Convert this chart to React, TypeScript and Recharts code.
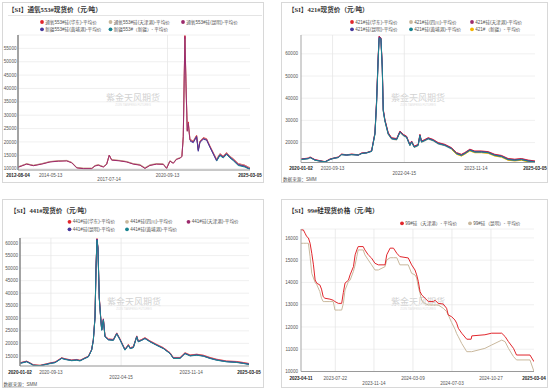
import React from 'react';
import { LineChart, Line, XAxis, YAxis, CartesianGrid, ReferenceLine } from 'recharts';

// ---------------- DATA ----------------
const P1_DATES = ['2012-08-04','2013-01-23','2013-06-04','2013-11-16','2014-04-30','2014-10-12','2015-03-26','2015-07-03','2015-10-10','2016-02-19','2016-08-02','2016-10-07','2016-12-12','2017-03-21','2017-05-26','2017-07-17','2017-09-02','2018-02-14','2018-06-26','2018-11-05','2019-03-17','2019-06-24','2019-10-01','2020-02-10','2020-06-21','2020-08-26','2020-10-31','2021-01-05','2021-03-12','2021-05-17','2021-06-25','2021-07-22','2021-08-11','2021-08-24','2021-09-13','2021-10-09','2021-10-29','2021-12-01','2022-02-05','2022-04-12','2022-05-15','2022-06-17','2022-08-22','2022-10-27','2023-01-01','2023-05-13','2023-07-18','2023-09-22','2023-11-27','2024-02-01','2024-04-07','2024-07-15','2024-11-24','2025-01-29','2025-03-05'];
const P1_HUADONG = [10600,11800,11200,11800,12600,12900,13000,12300,10400,10100,10100,11100,11400,10700,11700,15100,13300,13000,12600,11800,11400,10200,11300,11800,11700,10200,12900,12100,13600,14000,14600,22000,45500,59800,42500,24500,27500,21000,20300,22500,17200,20300,21600,21200,18500,13500,15600,14700,16000,14700,13700,11900,11300,10600,10400];
const P1_TIANJIN = [10700,11900,11300,11900,12700,13000,13100,12400,10500,10200,10200,11200,11500,10800,11800,14900,13400,13100,12700,11900,11600,10400,11500,11900,11800,10300,13000,12200,13700,14100,14600,21500,44000,58500,41500,24000,27000,20800,20200,22300,17000,20100,21400,21000,18300,13400,15500,14600,15900,14600,13600,11800,11200,10500,10300];
const P1_KUNMING = [10500,11700,11100,11700,12500,12800,12900,12200,10300,10000,10000,11000,11300,10600,11600,15000,13200,12900,12500,11700,11300,10100,11200,11700,11600,10100,12800,12000,13500,13900,14500,21900,45000,59500,42000,24000,27000,20700,20000,22200,16900,20000,21300,20900,18200,13200,15300,14400,15700,14400,13400,11600,11000,10300,10100];
const P1_HUANGPU = [null,null,null,null,null,null,null,null,null,null,null,null,null,null,null,null,null,null,null,null,null,null,null,null,null,null,null,null,null,null,null,null,null,null,null,null,null,20400,19700,21900,16500,19800,21000,20700,18000,12900,15100,14200,15500,14200,13200,11400,10800,10100,9900];
const P1_XINJIANG = [null,null,null,null,null,null,null,null,null,null,null,null,null,null,null,null,null,null,null,null,null,null,null,null,null,null,null,null,null,null,null,null,null,null,null,null,null,null,null,null,null,null,null,null,null,12800,14900,14000,15300,14000,13000,11200,10600,10000,9900];
const P1_NAMES = ['通氧553#硅(华东)-平均价','通氧553#硅(天津港)-平均价','通氧553#硅(昆明)-平均价','新疆553#硅(黄埔港)-平均价','新疆553#（新疆）- 平均价'];
const P1_YTICKS = [10000,15000,20000,25000,30000,35000,40000,45000,50000,55000];
const P1_XTICKS = ['2012-08-04','2014-05-13','2017-07-14','2020-09-13','2025-03-05'];

const P2_DATES = ['2020-01-02','2020-03-01','2020-03-15','2020-04-24','2020-07-14','2020-08-23','2020-09-19','2020-10-29','2020-11-25','2021-01-04','2021-02-14','2021-04-09','2021-05-06','2021-06-15','2021-07-25','2021-08-21','2021-09-03','2021-09-16','2021-09-24','2021-10-08','2021-10-19','2021-10-27','2021-11-09','2021-12-06','2022-01-02','2022-02-12','2022-03-11','2022-04-07','2022-05-03','2022-05-30','2022-06-13','2022-07-04','2022-08-05','2022-08-19','2022-09-01','2022-09-28','2022-10-25','2022-12-04','2023-01-13','2023-03-08','2023-05-01','2023-06-10','2023-07-20','2023-08-16','2023-09-26','2023-11-05','2023-12-29','2024-02-21','2024-04-14','2024-06-07','2024-07-31','2024-09-23','2024-11-16','2025-01-09','2025-03-05'];
const P2_HUADONG = [12600,13000,13500,12300,11400,12600,13000,13500,14800,14500,14800,14500,15300,15500,16300,24500,39000,59000,68000,67200,55000,35000,30500,24500,22200,21800,25200,23700,22900,19200,20700,18400,19200,23700,20700,21400,22200,21400,20000,19200,17700,15500,14700,15500,17000,16200,16200,15900,14700,14200,12800,12500,12800,12100,11700];
const P2_SICHUAN = [12300,12700,13200,12000,11100,12300,12700,13200,14500,14200,14500,14200,15000,15200,16000,23500,37000,57000,67000,66500,53000,34000,29500,23500,21500,21100,24500,23000,22200,18500,20000,17700,18500,23000,20000,20700,21500,20700,19300,18500,17000,14800,14000,14800,16300,15500,15500,15200,14000,13500,12100,11800,12100,11400,11000];
const P2_TIANJIN = [12500,12900,13400,12200,11300,12500,12900,13400,14700,14400,14700,14400,15200,15400,16200,24200,38500,58500,67800,67000,54500,34800,30200,24200,22000,21600,25000,23500,22700,19000,20500,18200,19000,23500,20500,21200,22000,21200,19800,19000,17500,15300,14500,15300,16800,16000,16000,15700,14500,14000,12600,12300,12600,11900,11500];
const P2_KUNMING = [12400,12800,13300,12100,11200,12400,12800,13300,14600,14300,14600,14300,15100,15300,16100,24000,38000,58000,67500,67000,54000,34500,30000,24000,21800,21400,24800,23300,22500,18800,20300,18000,18800,23300,20300,21000,21800,21000,19600,18800,17300,15100,14300,15100,16600,15800,15800,15500,14300,13800,12400,12100,12400,11700,11300];
const P2_HUANGPU = [12300,12700,13200,12000,11300,12300,12900,13200,14500,14400,14500,14400,15000,15400,16000,23800,37500,57500,67000,66800,53500,34200,29800,23800,21700,21300,24600,23200,22400,18700,20200,17900,18700,23100,20200,20900,21700,20900,19500,18700,17200,15000,14200,15000,16500,15700,15700,15400,14200,13700,12300,12000,12300,11600,11200];
const P2_XINJIANG = [null,null,null,null,null,null,null,null,null,null,null,null,null,null,null,null,null,null,null,null,null,null,null,null,null,null,null,null,null,null,null,null,null,null,null,null,null,null,null,null,16900,14700,13900,14700,16200,15400,15400,15100,13900,13400,12000,11700,12000,11300,11100];
const P2_NAMES = ['421#硅(华东)-平均价','421#硅(四川)-平均价','421#硅(天津港)-平均价','421#硅(昆明)-平均价','421#硅(黄埔港)-平均价','421#（新疆）- 平均价'];
const P2_YTICKS = [20000,30000,40000,50000,60000];
const P2_XTICKS = ['2020-01-02','2020-09-13','2022-04-15','2023-11-14','2025-03-05'];

const P3_DATES = ['2020-01-02','2020-02-26','2020-03-24','2020-04-21','2020-06-15','2020-08-09','2020-09-11','2020-10-17','2020-12-11','2021-01-07','2021-03-03','2021-04-14','2021-05-11','2021-06-21','2021-07-19','2021-08-15','2021-08-29','2021-09-12','2021-09-20','2021-09-28','2021-10-06','2021-10-17','2021-10-28','2021-11-06','2021-11-20','2021-12-03','2021-12-31','2022-02-10','2022-03-10','2022-04-06','2022-05-17','2022-06-14','2022-06-28','2022-07-25','2022-08-22','2022-09-04','2022-10-02','2022-10-29','2022-12-10','2023-02-03','2023-03-30','2023-05-24','2023-06-20','2023-08-14','2023-09-24','2023-11-05','2023-12-30','2024-02-22','2024-04-17','2024-06-11','2024-09-01','2024-11-23','2025-01-17','2025-03-05'];
const P3_HUADONG = [12300,12950,12300,11500,11300,11900,12300,12600,14300,13900,13400,13600,13300,14300,14900,17600,21500,31000,50500,61800,58300,38500,31000,25600,29800,23000,21800,21600,24200,21800,17700,19600,18300,18700,23000,21000,21600,22300,21000,19600,18300,16300,14400,14400,16300,15400,15700,15300,14400,13700,13000,12800,12400,12000];
const P3_SICHUAN = [12200,12850,12200,11400,11200,11800,12200,12500,14200,13800,13300,13500,13200,14200,14800,17500,21400,30700,50200,61500,58100,38200,30700,25400,29600,22800,21600,21400,24000,21600,17500,19400,18100,18500,22800,20800,21400,22100,20800,19400,18100,16100,14200,14200,16100,15200,15500,15100,14200,13500,12850,12600,12200,11800];
const P3_TIANJIN = [12200,12800,12150,11350,11150,11750,12150,12450,14150,13750,13250,13450,13150,14150,14750,17450,21350,30600,50100,61600,58000,38100,30600,25350,29550,22750,21550,21350,23950,21550,17450,19350,18050,18450,22750,20750,21350,22050,20750,19350,18050,16050,14150,14150,16050,15150,15450,15050,14150,13450,12800,12550,12150,11750];
const P3_KUNMING = [12100,12750,12100,11300,11100,11700,12100,12400,14100,13700,13200,13400,13100,14100,14700,17400,21300,30500,50000,61500,58000,38000,30500,25300,29500,22700,21500,21300,23900,21500,17400,19300,18000,18400,22700,20700,21300,22000,20700,19300,18000,16000,14100,14100,16000,15100,15400,15000,14100,13400,12750,12500,12100,11700];
const P3_HUANGPU = [12000,12650,12000,11250,11100,11650,12000,12300,14000,13600,13100,13300,13000,14000,14600,17300,21200,30300,49800,61200,57800,37800,30300,25200,29300,22600,21400,21200,23800,21400,17300,19200,17900,18300,22600,20600,21200,21900,20600,19200,17900,15900,14000,14000,15900,15000,15300,14900,14000,13300,12650,12400,12000,11600];
const P3_NAMES = ['441#硅(华东)-平均价','441#硅(四川)-平均价','441#硅(天津港)-平均价','441#硅(昆明)-平均价','441#硅(黄埔港)-平均价'];
const P3_YTICKS = [15000,20000,25000,30000,35000,40000,45000,50000,55000,60000];
const P3_XTICKS = ['2020-01-02','2020-09-13','2022-04-15','2023-11-14','2025-03-05'];

const P4_DATES = ['2023-04-11','2023-04-18','2023-04-23','2023-04-28','2023-05-03','2023-05-08','2023-05-13','2023-05-18','2023-05-23','2023-05-28','2023-06-06','2023-06-11','2023-06-16','2023-06-21','2023-07-06','2023-07-16','2023-07-21','2023-07-31','2023-08-10','2023-08-15','2023-08-20','2023-08-30','2023-09-04','2023-09-14','2023-09-19','2023-09-24','2023-09-28','2023-10-13','2023-10-18','2023-10-28','2023-11-07','2023-11-17','2023-11-27','2023-12-17','2023-12-22','2024-01-01','2024-01-11','2024-01-21','2024-01-30','2024-02-24','2024-03-05','2024-03-15','2024-03-20','2024-03-25','2024-03-30','2024-04-04','2024-04-14','2024-04-24','2024-05-09','2024-05-14','2024-05-23','2024-06-07','2024-06-17','2024-06-22','2024-07-02','2024-07-12','2024-07-17','2024-07-22','2024-08-01','2024-08-16','2024-08-29','2024-08-31','2024-10-09','2024-10-29','2024-11-28','2024-12-08','2024-12-18','2025-01-02','2025-01-11','2025-02-20','2025-03-04'];
const P4_TIANJIN = [16360,16360,16210,16060,16000,15760,15310,14790,14110,13960,13890,13700,13360,13290,13250,13200,13140,13060,13060,13550,13970,14100,14340,14710,15240,15460,15610,15610,15460,15240,15090,14860,14790,14790,15240,15540,15540,15310,15160,15100,14790,14560,14340,14040,13590,13440,13290,13140,13140,13200,13060,13030,12840,12540,12460,12310,12170,11940,11720,11450,11450,11600,11650,11720,11720,11570,11340,11040,10740,10740,10440];
const P4_KUNMING = [15760,15760,15760,15760,15760,15160,14410,14200,14000,13900,13590,13290,13140,13140,13140,13140,12760,12760,12760,13060,13660,14040,14100,14500,14790,15160,15460,15460,15240,15010,14790,14560,14560,14710,15010,15110,15110,15110,14790,14790,14410,14340,14200,13800,13500,13200,13050,12990,12990,12990,12990,12840,12690,12540,12200,11900,11700,11560,11260,10890,10890,10890,11040,11190,11410,11340,11040,10670,10520,10520,10000];
const P4_NAMES = ['99#硅（天津港）- 平均价','99#硅（昆明）- 平均价'];
const P4_YTICKS = [10000,11000,12000,13000,14000,15000,16000];
const P4_XTICKS = ['2023-04-11','2023-07-22','2023-11-14','2024-03-09','2024-07-03','2024-10-27','2025-03-04'];

const TITLES = ['【SI】通氧553#现货价（元/吨）','【SI】421#现货价（元/吨）','【SI】441#现货价（元/吨）','【SI】99#硅现货价格（元/吨）'];
const WATERMARK = '紫金天风期货';
const SOURCE = '数据来源：SMM';

// ---------------- STYLE ----------------
const RED = '#e1262c';
const BEIGE = '#c9b89d';
const MAGENTA = '#9c2a6c';
const BLUE = '#46399c';
const TEAL = '#1a8490';
const YELLOW = '#f4b400';
const NUM_FONT = "'Liberation Sans', Arial, sans-serif";
const CJK_FONT = "'Liberation Sans', 'Noto Sans CJK SC', sans-serif";
const TITLE_FONT = "'Liberation Serif', 'Noto Sans CJK SC', serif";

const toTs = (s: string) => Date.parse(s + 'T00:00:00Z');

type Series = { name: string; color: string; values: (number | null)[] };

type PanelCfg = {
  left: number; top: number; width: number; height: number;
  plotLeft: number; plotRight: number; plotTop: number; plotBottom: number;
  dates: string[];
  series: Series[];
  drawOrder: number[];
  yDomain: [number, number];
  yTicks: number[];
  xTicks: string[];
  lowered: string[];
  vLines: string[];
  yAxisColor: string;
  yAxisWidth: number;
  rowOffsets: [number, number];
  yGap: number;
};

// plot-area edges are in panel-local pixels
const PANELS: PanelCfg[] = [
  {
    left: 0, top: 0, width: 265, height: 190,
    plotLeft: 18, plotRight: 250, plotTop: 35, plotBottom: 170,
    dates: P1_DATES,
    series: [
      { name: P1_NAMES[0], color: RED, values: P1_HUADONG },
      { name: P1_NAMES[1], color: BEIGE, values: P1_TIANJIN },
      { name: P1_NAMES[2], color: MAGENTA, values: P1_KUNMING },
      { name: P1_NAMES[3], color: BLUE, values: P1_HUANGPU },
      { name: P1_NAMES[4], color: TEAL, values: P1_XINJIANG },
    ],
    drawOrder: [0, 1, 2, 3, 4],
    yDomain: [9500, 60000], yTicks: P1_YTICKS, xTicks: P1_XTICKS,
    lowered: ['2017-07-14'], vLines: ['2020-09-13'],
    yAxisColor: '#858585', yAxisWidth: 1.5, rowOffsets: [6.6, 10.8], yGap: 1.5,
  },
  {
    left: 275, top: 0, width: 275, height: 190,
    plotLeft: 26, plotRight: 260, plotTop: 35, plotBottom: 162.5,
    dates: P2_DATES,
    series: [
      { name: P2_NAMES[0], color: RED, values: P2_HUADONG },
      { name: P2_NAMES[1], color: BEIGE, values: P2_SICHUAN },
      { name: P2_NAMES[2], color: MAGENTA, values: P2_TIANJIN },
      { name: P2_NAMES[3], color: BLUE, values: P2_KUNMING },
      { name: P2_NAMES[4], color: TEAL, values: P2_HUANGPU },
      { name: P2_NAMES[5], color: YELLOW, values: P2_XINJIANG },
    ],
    drawOrder: [0, 1, 2, 5, 3, 4],
    yDomain: [11000, 68500], yTicks: P2_YTICKS, xTicks: P2_XTICKS,
    lowered: ['2022-04-15'], vLines: ['2020-09-13', '2022-04-15'],
    yAxisColor: '#a5a5a5', yAxisWidth: 1, rowOffsets: [7, 12], yGap: 3,
  },
  {
    left: 0, top: 195, width: 265, height: 194,
    plotLeft: 20, plotRight: 249, plotTop: 43, plotBottom: 171,
    dates: P3_DATES,
    series: [
      { name: P3_NAMES[0], color: RED, values: P3_HUADONG },
      { name: P3_NAMES[1], color: BEIGE, values: P3_SICHUAN },
      { name: P3_NAMES[2], color: MAGENTA, values: P3_TIANJIN },
      { name: P3_NAMES[3], color: BLUE, values: P3_KUNMING },
      { name: P3_NAMES[4], color: TEAL, values: P3_HUANGPU },
    ],
    drawOrder: [0, 1, 2, 3, 4],
    yDomain: [11000, 62000], yTicks: P3_YTICKS, xTicks: P3_XTICKS,
    lowered: ['2022-04-15'], vLines: ['2020-09-13', '2022-04-15'],
    yAxisColor: '#858585', yAxisWidth: 1.5, rowOffsets: [7.5, 13.2], yGap: 2,
  },
  {
    left: 275, top: 195, width: 275, height: 194,
    plotLeft: 26, plotRight: 259, plotTop: 34, plotBottom: 176.5,
    dates: P4_DATES,
    series: [
      { name: P4_NAMES[0], color: RED, values: P4_TIANJIN },
      { name: P4_NAMES[1], color: BEIGE, values: P4_KUNMING },
    ],
    drawOrder: [1, 0],
    yDomain: [10000, 16400], yTicks: P4_YTICKS, xTicks: P4_XTICKS,
    lowered: ['2023-11-14', '2024-07-03'],
    vLines: ['2023-07-22', '2023-11-14', '2024-03-09', '2024-07-03', '2024-10-27'],
    yAxisColor: '#a5a5a5', yAxisWidth: 1, rowOffsets: [8.5, 13.5], yGap: 3,
  },
];

function Panel({ cfg }: { cfg: PanelCfg }) {
  const rows = cfg.dates.map((d, i) => {
    const r: Record<string, number | null> = { t: toTs(d) };
    cfg.series.forEach((s, k) => { r['s' + k] = s.values[i]; });
    return r;
  });
  const x0 = toTs(cfg.dates[0]);
  const x1 = toTs(cfg.dates[cfg.dates.length - 1]);
  const xTickTs = cfg.xTicks.map(toTs);
  const yAxisW = cfg.plotLeft;
  const xAxisH = cfg.height - cfg.plotBottom;
  const XTick = (p: any) => {
    const v = p.payload.value as number;
    let idx = 0;
    xTickTs.forEach((t, i) => { if (Math.abs(t - v) < Math.abs(xTickTs[idx] - v)) idx = i; });
    const label = cfg.xTicks[idx];
    const edge = idx === 0 || idx === cfg.xTicks.length - 1;
    const low = cfg.lowered.includes(label);
    return (
      <text x={p.x} y={cfg.plotBottom + (low ? cfg.rowOffsets[1] : cfg.rowOffsets[0])} textAnchor="middle"
        fontSize={4.6} fontFamily={NUM_FONT} fontWeight={edge ? 700 : 400} fill={edge ? '#222' : '#555'}>
        {label}
      </text>
    );
  };
  const YTick = (p: any) => (
    <text x={cfg.plotLeft - cfg.yGap} y={p.y + 1.6} textAnchor="end" fontSize={4.6} fontFamily={NUM_FONT} fill="#555">
      {p.payload.value}
    </text>
  );
  return (
    <div style={{ position: 'absolute', left: cfg.left, top: cfg.top }}>
      <LineChart width={cfg.width} height={cfg.height} data={rows}
        margin={{ top: cfg.plotTop, left: 0, right: cfg.width - cfg.plotRight, bottom: 0 }}>
        <CartesianGrid vertical={false} horizontal={true} stroke="#ececec" strokeWidth={0.8} />
        {cfg.vLines.map((d) => (
          <ReferenceLine key={d} x={toTs(d)} stroke="#e6e6e6" strokeWidth={0.8} />
        ))}
        <XAxis dataKey="t" type="number" domain={[x0, x1]} ticks={xTickTs} interval={0}
          height={xAxisH} tickSize={0} tickMargin={0} tickLine={false} allowDataOverflow
          axisLine={{ stroke: '#9a9a9a', strokeWidth: 1 }} tick={XTick} />
        <YAxis type="number" domain={cfg.yDomain} ticks={cfg.yTicks} interval={0}
          width={yAxisW} tickSize={0} tickMargin={0} tickLine={false} allowDataOverflow
          axisLine={{ stroke: cfg.yAxisColor, strokeWidth: cfg.yAxisWidth }} tick={YTick} />
        {cfg.drawOrder.map((k) => (
          <Line key={k} type="linear" dataKey={'s' + k} stroke={cfg.series[k].color} strokeWidth={1}
            dot={false} isAnimationActive={false} connectNulls={false} />
        ))}
      </LineChart>
    </div>
  );
}

function LegendItem({ x, y, color, text }: { x: number; y: number; color: string; text: string }) {
  return (
    <g>
      <circle cx={x} cy={y} r={1.9} fill={color} />
      <text x={x + 3.2} y={y + 1.6} fontSize={4.6} fontFamily={CJK_FONT} fill="#555">{text}</text>
    </g>
  );
}

function Background() {
  const legendPos = [
    [[42, 22], [110.5, 22], [183, 22], [42, 29.3], [110.5, 29.3]],
    [[352, 22], [411, 22], [472, 22], [352, 29.3], [411, 29.3], [472, 29.3]],
    [[69.5, 221.8], [127, 221.8], [188.5, 221.8], [69.5, 229.3], [127, 229.3]],
    [[402, 223.3], [470, 223.3]],
  ];
  const wm = [[133, 98], [418, 98], [134, 302], [418, 302]];
  const titlePos = [[8, 11.6], [288, 12], [10, 212.8], [288, 213.2]];
  return (
    <svg width={550} height={389} style={{ position: 'absolute', left: 0, top: 0 }}>
      <rect x={0} y={0} width={550} height={389} fill="#fff" />
      <rect x={2.5} y={2.5} width={261} height={180} fill="none" stroke="#d8d8d8" />
      <rect x={281.5} y={2.5} width={266} height={180} fill="none" stroke="#d8d8d8" />
      <rect x={2.5} y={199.5} width={261} height={188} fill="none" stroke="#d8d8d8" />
      <rect x={281.5} y={199.5} width={266} height={188} fill="none" stroke="#d8d8d8" />
      <line x1={8} x2={262} y1={15.5} y2={15.5} stroke="#e4e4e4" />
      {TITLES.map((t, i) => (
        <text key={t} x={titlePos[i][0]} y={titlePos[i][1]} fontSize={6.6} fontFamily={TITLE_FONT}
          fontWeight={700} fill="#333">{t}</text>
      ))}
      {PANELS.map((p, i) => p.series.map((s, k) => (
        <LegendItem key={i + '-' + k} x={legendPos[i][k][0]} y={legendPos[i][k][1]} color={s.color} text={s.name} />
      )))}
      {wm.map(([x, y], i) => (
        <g key={'wm' + i}>
          <text x={x} y={y + 3} textAnchor="middle" fontSize={9} fontFamily={CJK_FONT} fill="#d2d2d2">{WATERMARK}</text>
          <text x={x} y={y + 7.5} textAnchor="middle" fontSize={2.8} fontFamily={NUM_FONT} fill="#dedede">ZIJIN TIANFENG FUTURES</text>
        </g>
      ))}
      <text x={283} y={180.8} fontSize={4.6} fontFamily={CJK_FONT} fill="#555">{SOURCE}</text>
      <text x={3.5} y={385.8} fontSize={4.6} fontFamily={CJK_FONT} fill="#555">{SOURCE}</text>
    </svg>
  );
}

export default function App() {
  return (
    <div style={{ position: 'absolute', left: 0, top: 0, width: 550, height: 389, background: '#fff', overflow: 'hidden' }}>
      <Background />
      {PANELS.map((cfg, i) => <Panel key={i} cfg={cfg} />)}
    </div>
  );
}
